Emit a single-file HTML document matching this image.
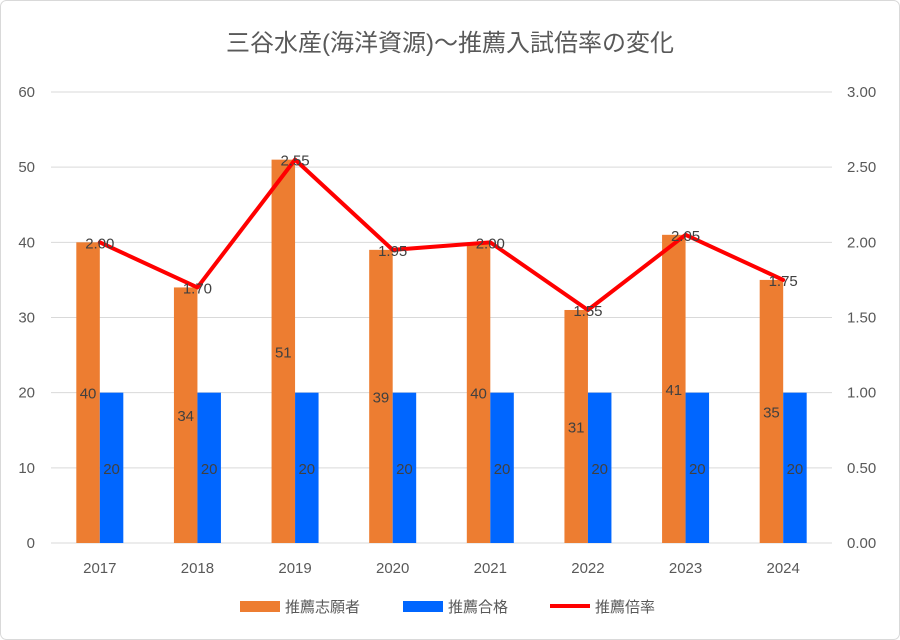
<!DOCTYPE html>
<html><head><meta charset="utf-8">
<style>
body{margin:0;background:#fff;}
svg{display:block;font-family:"Liberation Sans","Noto Sans CJK JP",sans-serif;}
</style></head>
<body>
<svg id="chart" width="900" height="640" viewBox="0 0 900 640">
<rect x="0.5" y="0.5" width="899" height="639" rx="6" fill="#fff" stroke="#d9d9d9"/>
<text x="450" y="51" text-anchor="middle" font-size="24" fill="#595959">三谷水産(海洋資源)～推薦入試倍率の変化</text>
<g id="grid"></g><g id="bars"></g><g id="line"></g><g id="labels"></g><g id="axes"></g>
<g>
<rect x="240" y="601" width="40" height="11" fill="#ED7D31"/>
<text x="285" y="612" font-size="15" fill="#595959">推薦志願者</text>
<rect x="403" y="601" width="40" height="11" fill="#0066FF"/>
<text x="448" y="612" font-size="15" fill="#595959">推薦合格</text>
<line x1="550" y1="606" x2="590" y2="606" stroke="#FF0000" stroke-width="4"/>
<text x="595" y="612" font-size="15" fill="#595959">推薦倍率</text>
</g>
</svg>
<script>
const categories=["2017","2018","2019","2020","2021","2022","2023","2024"];
const applicants=[40,34,51,39,40,31,41,35];
const passed=[20,20,20,20,20,20,20,20];
const ratio=[2.00,1.70,2.55,1.95,2.00,1.55,2.05,1.75];
const leftTicks=[0,10,20,30,40,50,60];
const rightTicks=[0,0.5,1,1.5,2,2.5,3];

const NS="http://www.w3.org/2000/svg";
const X0=51,X1=832,Y0=543,Y1=92;
const bw=(X1-X0)/categories.length;
const yL=v=>Y0-(v/60)*(Y0-Y1);
const yR=v=>Y0-(v/3)*(Y0-Y1);
const xC=i=>X0+bw*(i+0.5);
function mk(tag,attrs,parent,text){const e=document.createElementNS(NS,tag);for(const k in attrs)e.setAttribute(k,attrs[k]);if(text!==undefined)e.textContent=text;document.getElementById(parent).appendChild(e);return e;}

leftTicks.forEach((t,i)=>{
  const g=mk("line",{x1:X0,x2:X1,y1:yL(t),y2:yL(t),stroke:"#d9d9d9","stroke-width":1},"grid");
  
  
  const l=mk("text",{x:35,y:yL(t)+5,"text-anchor":"end","font-size":15,fill:"#595959"},"axes",String(t));
  
  
});
rightTicks.forEach(t=>{
  const l=mk("text",{x:847,y:yR(t)+5,"font-size":15,fill:"#595959"},"axes",t.toFixed(2));
  
  
});
const bwid=23.5;
categories.forEach((c,i)=>{
  const cx=xC(i);
  const a=mk("rect",{x:cx-bwid,y:yL(applicants[i]),width:bwid,height:Y0-yL(applicants[i]),fill:"#ED7D31"},"bars");
  
  
  const p=mk("rect",{x:cx,y:yL(passed[i]),width:bwid,height:Y0-yL(passed[i]),fill:"#0066FF"},"bars");
  
  
  const la=mk("text",{x:cx-bwid/2,y:(yL(applicants[i])+Y0)/2+6,"text-anchor":"middle","font-size":15,fill:"#404040"},"labels",String(applicants[i]));
  
  
  const lp=mk("text",{x:cx+bwid/2,y:(yL(passed[i])+Y0)/2+6,"text-anchor":"middle","font-size":15,fill:"#404040"},"labels",String(passed[i]));
  
  
  const lr=mk("text",{x:cx,y:yR(ratio[i])+6,"text-anchor":"middle","font-size":15,fill:"#404040"},"labels",ratio[i].toFixed(2));
  
  
  const xl=mk("text",{x:cx,y:573,"text-anchor":"middle","font-size":15,fill:"#595959"},"axes",c);
  
  
});
const pts=categories.map((c,i)=>xC(i)+","+yR(ratio[i])).join(" ");
const pl=mk("polyline",{points:pts,fill:"none",stroke:"#FF0000","stroke-width":4,"stroke-linejoin":"round","stroke-linecap":"round"},"line");


</script>
</body></html>
